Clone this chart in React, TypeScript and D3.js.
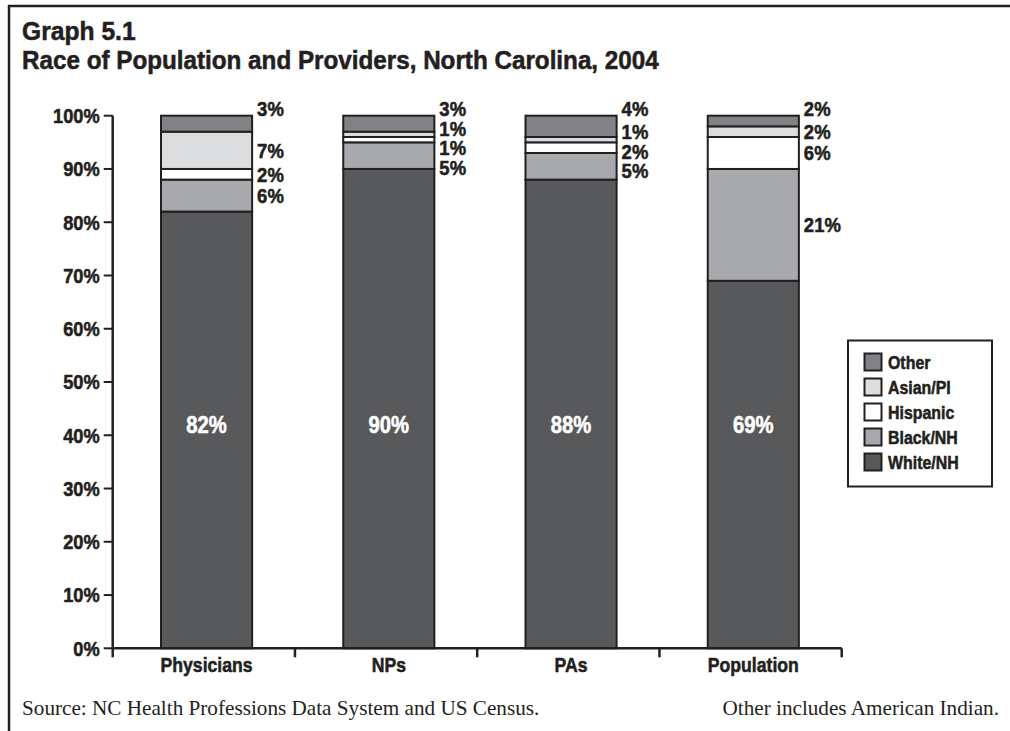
import React from "react";
import * as d3 from "d3";

// Share of each race group (percent) by provider type / population
const categories = ["Physicians", "NPs", "PAs", "Population"];
const groups = ["White/NH", "Black/NH", "Hispanic", "Asian/PI", "Other"];
const whiteNH = [82, 90, 88, 69];
const blackNH = [6, 5, 5, 21];
const hispanic = [2, 1, 2, 6];
const asianPI = [7, 1, 1, 2];
const other = [3, 3, 4, 2];
const yTicks = [0, 10, 20, 30, 40, 50, 60, 70, 80, 90, 100];
const legendOrder = ["Other", "Asian/PI", "Hispanic", "Black/NH", "White/NH"];

const colors: Record<string, string> = {
  "White/NH": "#58595b",
  "Black/NH": "#a7a9ac",
  Hispanic: "#ffffff",
  "Asian/PI": "#dcddde",
  Other: "#808285",
};

const W = 1010;
const H = 731;
const INK = "#231f20";
const SANS = "'Liberation Sans', Arial, 'DejaVu Sans', sans-serif";
const SERIF = "'Liberation Serif', 'DejaVu Serif', 'Times New Roman', serif";

const rows = categories.map((c, i) => ({
  category: c,
  "White/NH": whiteNH[i],
  "Black/NH": blackNH[i],
  Hispanic: hispanic[i],
  "Asian/PI": asianPI[i],
  Other: other[i],
}));

const stacked = d3.stack<any>().keys(groups)(rows);

const x = d3
  .scaleBand<string>()
  .domain(categories)
  .range([112.7, 841.7])
  .paddingInner(0.5)
  .paddingOuter(0.25)
  .align(0.53);
const y = d3.scaleLinear().domain([0, 100]).range([648.3, 115.7]);

const fmt = (v: number) => `${v}%`;

// Heavy condensed text: a bold sans squeezed horizontally, lightly stroked.
function CText(props: {
  x: number;
  y: number;
  size: number;
  anchor?: "start" | "middle" | "end";
  fill?: string;
  sx?: number;
  dy?: string;
  children: React.ReactNode;
}) {
  const { x, y, size, anchor = "start", fill = INK, sx = 0.86, dy, children } = props;
  return (
    <text
      transform={`translate(${x},${y}) scale(${sx},1)`}
      textAnchor={anchor}
      fontSize={size}
      fontWeight="bold"
      fontFamily={SANS}
      fill={fill}
      stroke={fill}
      strokeWidth={0.55}
      dy={dy}
    >
      {children}
    </text>
  );
}

// Place side labels: "Other" sits on the bar top, the rest near their
// segment centres, spread apart so they never overlap.
function sideLabels(ci: number) {
  const gap = 19.5;
  const topY = y(100) - 7;
  const items = ["Asian/PI", "Hispanic", "Black/NH"].map((g) => {
    const seg = stacked[groups.indexOf(g)][ci];
    return { v: seg[1] - seg[0], d: y((seg[0] + seg[1]) / 2) };
  });
  type Cl = { items: typeof items; pos: number };
  const clusters: Cl[] = [];
  for (const it of items) {
    clusters.push({ items: [it], pos: it.d });
    let merged = true;
    while (merged) {
      merged = false;
      const c = clusters[clusters.length - 1];
      const mean = d3.mean(c.items, (d, k) => d.d - k * gap) as number;
      c.pos = Math.max(mean, topY + gap);
      const prev = clusters[clusters.length - 2];
      if (prev && prev.pos + prev.items.length * gap > c.pos) {
        prev.items = prev.items.concat(c.items);
        clusters.pop();
        merged = true;
      }
    }
  }
  const out: { text: string; cy: number }[] = [{ text: fmt(other[ci]), cy: topY }];
  clusters.forEach((c) =>
    c.items.forEach((it, k) => out.push({ text: fmt(it.v), cy: c.pos + k * gap }))
  );
  return out;
}

export default function App() {
  const [x0, x1] = x.range();
  const boundaries = d3.range(categories.length + 1).map((i) => x0 + i * x.step());
  return (
    <svg
      width={W}
      height={H}
      style={{ position: "absolute", left: 0, top: 0, background: "#fff" }}
    >
      {/* frame */}
      <path d={`M9,${H} V6 H${W}`} fill="none" stroke={INK} strokeWidth={2.5} />

      {/* title */}
      <CText x={22} y={40} size={26.5} sx={0.93}>
        Graph 5.1
      </CText>
      <CText x={22} y={69} size={26.5} sx={0.915}>
        Race of Population and Providers, North Carolina, 2004
      </CText>

      {/* bars */}
      {stacked.map((layer) =>
        layer.map((seg, ci) => (
          <rect
            key={layer.key + ci}
            x={x(categories[ci])}
            width={x.bandwidth()}
            y={y(seg[1])}
            height={y(seg[0]) - y(seg[1])}
            fill={colors[layer.key]}
            stroke={INK}
            strokeWidth={2}
          />
        ))
      )}

      {/* value labels inside the White/NH segment */}
      {categories.map((c, ci) => (
        <CText
          key={"in" + c}
          x={(x(c) as number) + x.bandwidth() / 2}
          y={y(42)}
          dy="0.36em"
          anchor="middle"
          size={23}
          sx={0.88}
          fill="#ffffff"
        >
          {fmt(whiteNH[ci])}
        </CText>
      ))}

      {/* side labels */}
      {categories.map((c, ci) =>
        sideLabels(ci).map((l, k) => (
          <CText
            key={"side" + c + k}
            x={(x(c) as number) + x.bandwidth() + 5}
            y={l.cy}
            dy="0.36em"
            size={20.5}
            sx={0.9}
          >
            {l.text}
          </CText>
        ))
      )}

      {/* y axis */}
      <line x1={x0} x2={x0} y1={y(100)} y2={y(0) + 9} stroke={INK} strokeWidth={2.5} />
      {yTicks.map((t) => (
        <g key={"yt" + t}>
          <line x1={x0 - 9} x2={x0} y1={y(t)} y2={y(t)} stroke={INK} strokeWidth={2} />
          <CText x={x0 - 13} y={y(t)} dy="0.36em" anchor="end" size={20.5} sx={0.89}>
            {fmt(t)}
          </CText>
        </g>
      ))}

      {/* x axis */}
      <line x1={x0} x2={x1} y1={y(0)} y2={y(0)} stroke={INK} strokeWidth={2.5} />
      {boundaries.slice(1).map((b, i) => (
        <line key={"xt" + i} x1={b} x2={b} y1={y(0)} y2={y(0) + 9} stroke={INK} strokeWidth={2.5} />
      ))}
      {categories.map((c) => (
        <CText
          key={"xl" + c}
          x={(x(c) as number) + x.bandwidth() / 2}
          y={672}
          anchor="middle"
          size={20.5}
          sx={0.86}
        >
          {c}
        </CText>
      ))}

      {/* legend */}
      <rect x={848} y={340.5} width={144} height={146} fill="#fff" stroke={INK} strokeWidth={2} />
      {legendOrder.map((g, i) => (
        <g key={"lg" + g} transform={`translate(0,${i * 25})`}>
          <rect x={864.5} y={353.5} width={17} height={17} fill={colors[g]} stroke={INK} strokeWidth={2} />
          <CText x={888} y={369} size={18.5} sx={0.86}>
            {g}
          </CText>
        </g>
      ))}

      {/* footer */}
      <text x={22} y={715} fontSize={21.2} fontFamily={SERIF} fill={INK}>
        Source: NC Health Professions Data System and US Census.
      </text>
      <text x={999} y={715} textAnchor="end" fontSize={21.2} fontFamily={SERIF} fill={INK}>
        Other includes American Indian.
      </text>
    </svg>
  );
}
